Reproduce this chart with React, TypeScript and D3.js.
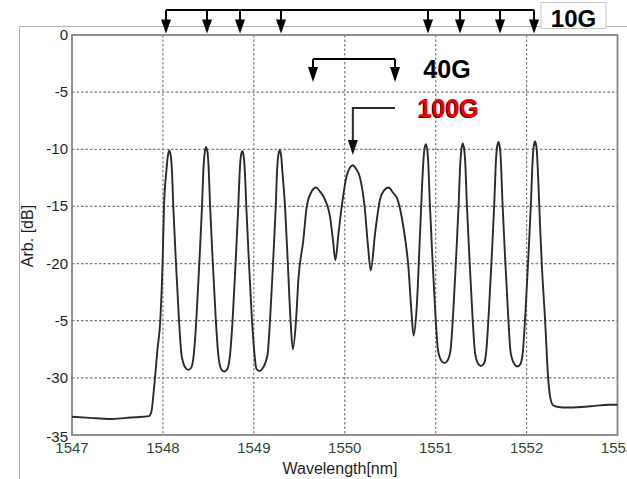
import React from "react";
import * as d3 from "d3";

const wavelength = [
  1547.0, 1547.198, 1547.418, 1547.6, 1547.693, 1547.847, 1547.875, 1547.895, 1547.913, 1547.94,
  1547.971, 1547.996, 1548.012, 1548.037, 1548.054, 1548.07, 1548.087, 1548.1, 1548.114, 1548.144,
  1548.177, 1548.205, 1548.246, 1548.279, 1548.312, 1548.339, 1548.367, 1548.4, 1548.43, 1548.444,
  1548.457, 1548.474, 1548.491, 1548.504, 1548.518, 1548.548, 1548.581, 1548.609, 1548.642, 1548.675,
  1548.708, 1548.738, 1548.766, 1548.799, 1548.829, 1548.843, 1548.856, 1548.873, 1548.89, 1548.903,
  1548.917, 1548.947, 1548.98, 1549.008, 1549.028, 1549.061, 1549.094, 1549.15, 1549.178, 1549.211,
  1549.241, 1549.255, 1549.268, 1549.285, 1549.301, 1549.315, 1549.343, 1549.374, 1549.404, 1549.429,
  1549.464, 1549.49, 1549.545, 1549.582, 1549.629, 1549.684, 1549.728, 1549.783, 1549.838, 1549.871,
  1549.897, 1549.932, 1549.967, 1550.022, 1550.058, 1550.088, 1550.124, 1550.168, 1550.218, 1550.256,
  1550.286, 1550.333, 1550.388, 1550.432, 1550.482, 1550.531, 1550.581, 1550.645, 1550.7, 1550.737,
  1550.757, 1550.79, 1550.828, 1550.858, 1550.872, 1550.891, 1550.908, 1550.921, 1550.935, 1550.965,
  1550.998, 1551.026, 1551.063, 1551.096, 1551.129, 1551.163, 1551.191, 1551.224, 1551.254, 1551.268,
  1551.282, 1551.298, 1551.315, 1551.328, 1551.342, 1551.372, 1551.405, 1551.433, 1551.466, 1551.499,
  1551.532, 1551.555, 1551.583, 1551.616, 1551.646, 1551.66, 1551.674, 1551.69, 1551.707, 1551.72,
  1551.734, 1551.764, 1551.797, 1551.825, 1551.866, 1551.899, 1551.932, 1551.958, 1551.986, 1552.019,
  1552.049, 1552.063, 1552.077, 1552.093, 1552.11, 1552.13, 1552.15, 1552.167, 1552.204, 1552.237,
  1552.262, 1552.292, 1552.35, 1552.446, 1552.6, 1552.75, 1552.9, 1553.0,
];

const powerDb = [
  -33.4, -33.5, -33.6, -33.5, -33.45, -33.35, -32.9, -31.5, -30.0, -27.5,
  -25.0, -20.0, -15.0, -12.0, -10.6, -10.1, -10.6, -12.0, -15.0, -20.0,
  -25.0, -28.0, -29.1, -29.3, -29.1, -28.0, -25.0, -20.0, -15.0, -12.0,
  -10.5, -9.8, -10.3, -11.8, -14.8, -19.8, -24.8, -28.0, -29.25, -29.45,
  -29.25, -28.0, -25.0, -20.0, -15.0, -12.2, -10.7, -10.15, -10.7, -12.2,
  -15.0, -20.0, -25.0, -28.0, -29.2, -29.4, -29.2, -28.0, -25.0, -20.0,
  -15.0, -12.0, -10.6, -10.05, -10.6, -12.0, -15.0, -20.0, -25.0, -27.5,
  -25.0, -21.4, -17.9, -15.0, -13.8, -13.35, -13.7, -14.4, -15.9, -18.0,
  -19.7, -17.3, -15.0, -12.3, -11.6, -11.4, -11.7, -12.5, -15.0, -18.5,
  -20.6, -17.4, -14.4, -13.6, -13.35, -13.8, -14.4, -16.8, -20.3, -24.6,
  -26.3, -24.0, -17.4, -12.0, -10.3, -9.55, -10.1, -11.6, -14.6, -19.6,
  -24.6, -27.6, -28.5, -28.7, -28.5, -27.6, -24.6, -19.6, -14.6, -11.6,
  -10.1, -9.5, -10.1, -11.6, -14.6, -19.6, -24.6, -27.8, -28.75, -28.96,
  -28.75, -27.8, -24.5, -19.5, -14.5, -11.5, -9.9, -9.35, -9.9, -11.5,
  -14.5, -19.5, -24.5, -27.8, -28.8, -29.0, -28.8, -27.8, -24.5, -19.5,
  -14.5, -11.5, -9.85, -9.3, -9.9, -13.0, -17.0, -20.0, -25.0, -30.0,
  -31.8, -32.4, -32.55, -32.6, -32.55, -32.45, -32.35, -32.35,
];

const xTicks = [1547, 1548, 1549, 1550, 1551, 1552, 1553];
const xTickLabels = ["1547", "1548", "1549", "1550", "1551", "1552", "1553"];
const yTicks = [0, -5, -10, -15, -20, -25, -30, -35];
const yTickLabels = ["0", "-5", "-10", "-15", "-20", "-5", "-30", "-35"];

const arrows10G = [1548.034, 1548.485, 1548.848, 1549.299, 1550.916, 1551.268, 1551.708, 1552.082];
const arrows40G = [1549.651, 1550.553];
const arrow100G = 1550.089;
const label10G = "10G";
const label40G = "40G";
const label100G = "100G";

const W = 627;
const H = 479;
const margin = { left: 72, top: 35, right: 10, bottom: 44 };
const FONT = "Arial, 'Liberation Sans', Helvetica, sans-serif";

function ArrowHead({ x, tip, w = 10, h = 14, color = "#000" }: any) {
  return <path d={`M${x - w / 2},${tip - h} L${x + w / 2},${tip - h} L${x},${tip} Z`} fill={color} />;
}

export default function App() {
  const x = d3.scaleLinear().domain([1547, 1553]).range([72, 617.5]);
  const y = d3.scaleLinear().domain([-35, 0]).range([435, 35]);
  const pts = wavelength.map((w, i) => [w, powerDb[i]] as [number, number]);
  const line = d3
    .line<[number, number]>()
    .x((d) => x(d[0]))
    .y((d) => y(d[1]))
    .curve(d3.curveMonotoneX);

  const topY = 10; // 10G bracket
  const tip10 = 33.5;
  const y40 = 59;
  const tip40 = 82;
  const y100 = 108;
  const tip100 = 155;
  const x100h = x(1550.553);

  return (
    <svg
      width={W}
      height={H}
      style={{ position: "absolute", left: 0, top: 0, background: "#fff" }}
      fontFamily={FONT}
    >
      <rect x={0} y={0} width={W} height={H} fill="#fff" />
      {/* outer frame */}
      <line x1={19.5} y1={26.5} x2={W} y2={26.5} stroke="#b4b4b4" strokeWidth={1} />
      <line x1={19.5} y1={26.5} x2={19.5} y2={H} stroke="#b4b4b4" strokeWidth={1} />

      {/* grid */}
      {xTicks.slice(1, -1).map((t) => (
        <line key={"gx" + t} x1={x(t)} x2={x(t)} y1={y(0)} y2={y(-35)} stroke="#7a7a7a" strokeWidth={1.2} strokeDasharray="2.5 2" />
      ))}
      {yTicks.slice(1, -1).map((t) => (
        <line key={"gy" + t} x1={x(1547)} x2={x(1553)} y1={y(t)} y2={y(t)} stroke="#7a7a7a" strokeWidth={1.2} strokeDasharray="2.5 2" />
      ))}

      {/* plot box */}
      <rect x={x(1547)} y={y(0)} width={x(1553) - x(1547)} height={y(-35) - y(0)} fill="none" stroke="#858585" strokeWidth={1.8} />

      {/* curve */}
      <path d={line(pts) || ""} fill="none" stroke="#2a2a2a" strokeWidth={1.9} strokeLinejoin="round" />

      {/* y tick labels */}
      {yTicks.map((t, i) => (
        <text key={"yl" + t} x={68} y={y(t) + (t === -35 ? 7 : 5)} textAnchor="end" fontSize={15} fill="#1e1e1e">
          {yTickLabels[i]}
        </text>
      ))}
      {/* x tick labels */}
      {xTicks.map((t, i) => (
        <text key={"xl" + t} x={x(t)} y={453} textAnchor="middle" fontSize={15} fill="#2f4a2f">
          {xTickLabels[i]}
        </text>
      ))}

      {/* axis titles */}
      <text x={340} y={474} textAnchor="middle" fontSize={16} fill="#1e1e1e">
        Wavelength[nm]
      </text>
      <text transform={`translate(33,236) rotate(-90)`} textAnchor="middle" fontSize={16} fill="#1e1e1e">
        Arb. [dB]
      </text>

      {/* 10G annotation */}
      <line x1={x(arrows10G[0])} x2={x(arrows10G[arrows10G.length - 1])} y1={topY} y2={topY} stroke="#000" strokeWidth={2} />
      {arrows10G.map((w) => (
        <g key={"a10" + w}>
          <line x1={x(w)} x2={x(w)} y1={topY} y2={tip10 - 12} stroke="#000" strokeWidth={2} />
          <ArrowHead x={x(w)} tip={tip10} w={10} h={14} />
        </g>
      ))}
      <rect x={541} y={2.5} width={65} height={26} fill="#fff" stroke="#c8c8c8" strokeWidth={1} />
      <text x={573.5} y={26.5} textAnchor="middle" fontSize={24} fontWeight="bold" fill="#000">
        {label10G}
      </text>

      {/* 40G annotation */}
      <line x1={x(arrows40G[0])} x2={x(arrows40G[1])} y1={y40} y2={y40} stroke="#000" strokeWidth={2} />
      {arrows40G.map((w) => (
        <g key={"a40" + w}>
          <line x1={x(w)} x2={x(w)} y1={y40} y2={tip40 - 12} stroke="#000" strokeWidth={2} />
          <ArrowHead x={x(w)} tip={tip40} w={10} h={15} />
        </g>
      ))}
      <text x={447} y={78} textAnchor="middle" fontSize={25} fontWeight="bold" fill="#000">
        {label40G}
      </text>

      {/* 100G annotation */}
      <polyline
        points={`${x100h},${y100} ${x(arrow100G)},${y100} ${x(arrow100G)},${tip100 - 12}`}
        fill="none"
        stroke="#2a2a2a"
        strokeWidth={2}
      />
      <ArrowHead x={x(arrow100G)} tip={tip100} w={10} h={15} color="#111" />
      <text x={447.5} y={118} textAnchor="middle" fontSize={25} fontWeight="bold" fill="#3a0000">
        {label100G}
      </text>
      <text x={448.5} y={117} textAnchor="middle" fontSize={25} fontWeight="bold" fill="#ee0000">
        {label100G}
      </text>
    </svg>
  );
}
